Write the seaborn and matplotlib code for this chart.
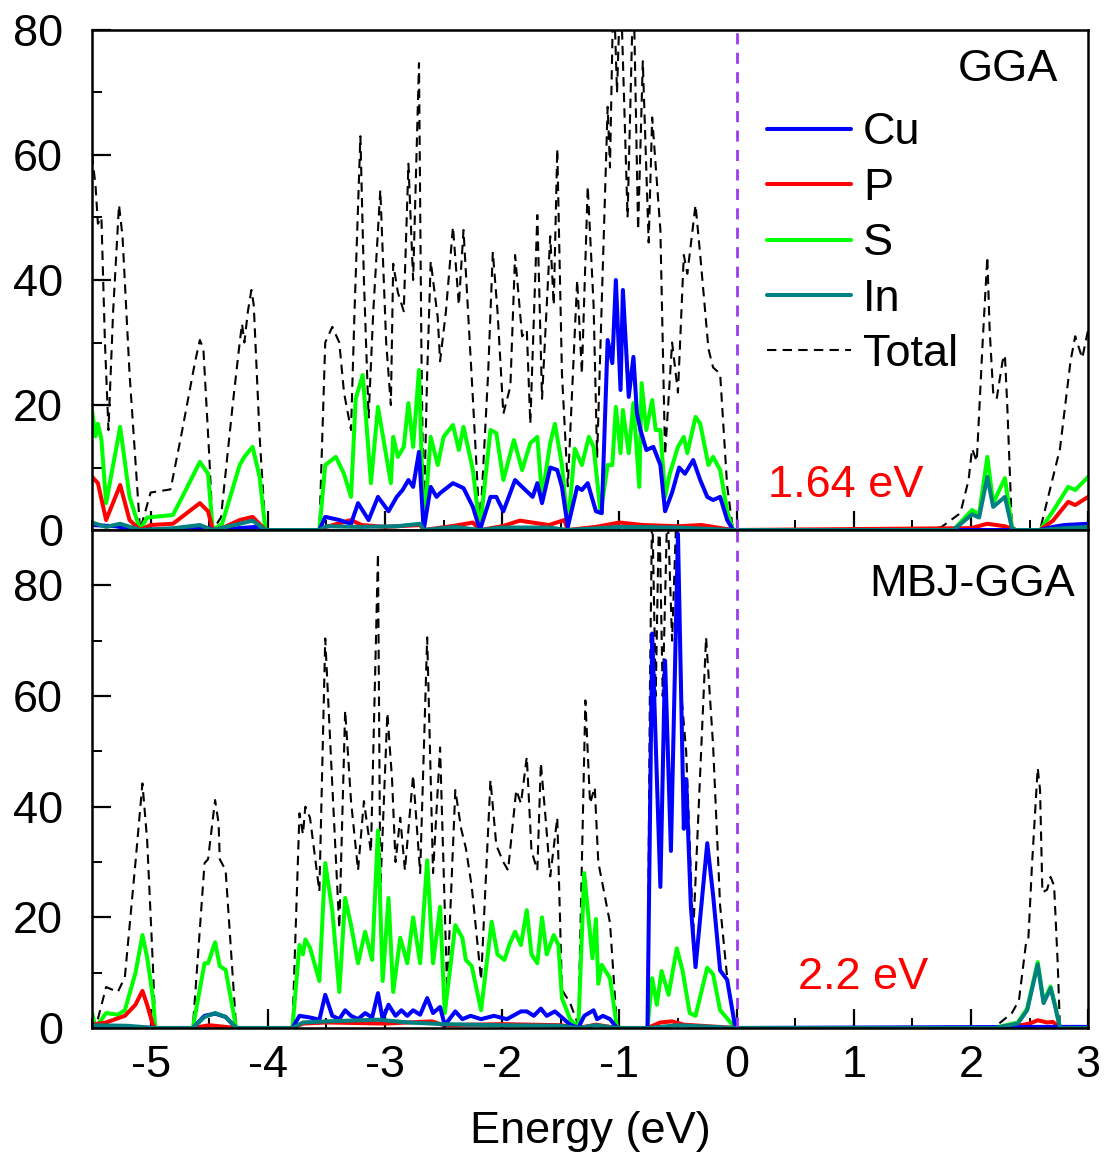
import matplotlib
matplotlib.use("Agg")
import matplotlib.pyplot as plt
from matplotlib.ticker import MultipleLocator
import seaborn as sns

# ---------------- GGA partial / total DOS ----------------
gga_total_e = [-5.50, -5.47, -5.45, -5.42, -5.39, -5.36, -5.32, -5.27, -5.24, -5.18, -5.09,
               -5.00, -4.83, -4.73, -4.62, -4.58, -4.55, -4.50, -4.47, -4.40, -4.30, -4.24,
               -4.22, -4.20, -4.17, -4.14, -4.12, -4.07, -4.02, -3.56, -3.51, -3.45, -3.39,
               -3.35, -3.29, -3.26, -3.21, -3.18, -3.14, -3.10, -3.04, -2.99, -2.95, -2.93,
               -2.89, -2.84, -2.80, -2.76, -2.71, -2.69, -2.67, -2.64, -2.61, -2.55, -2.53,
               -2.48, -2.42, -2.37, -2.33, -2.25, -2.19, -2.12, -2.08, -2.04, -1.99, -1.93,
               -1.89, -1.83, -1.79, -1.76, -1.70, -1.66, -1.59, -1.56, -1.53, -1.49, -1.44,
               -1.36, -1.32, -1.27, -1.22, -1.19, -1.10, -1.08, -1.05, -1.02, -0.99, -0.93,
               -0.88, -0.84, -0.80, -0.75, -0.72, -0.65, -0.61, -0.55, -0.50, -0.45, -0.42,
               -0.35, -0.31, -0.24, -0.20, -0.14, -0.08, -0.03, 1.60, 1.75, 1.91, 1.98,
               2.01, 2.05, 2.10, 2.14, 2.16, 2.19, 2.22, 2.27, 2.29, 2.31, 2.35, 2.38,
               2.59, 2.76, 2.85, 2.89, 2.95, 3.00]
gga_total = [60, 55, 49, 50, 30, 16, 35, 52, 47, 25, 0,
             6, 6.5, 16, 27, 30.4, 29, 12, 0, 2, 20, 30,
             33, 30, 35, 38.4, 36, 15, 0, 0, 30, 32.5, 30,
             22, 16, 35, 63, 40, 18, 35, 54.4, 30, 20, 42.6,
             38, 35, 58.6, 40, 74.7, 30, 1, 25, 43, 34, 27,
             35, 48.5, 36, 48, 21, 0, 25, 44.5, 35, 18.6, 23,
             44, 31, 32, 17, 50.4, 21, 47, 36, 61, 25, 7,
             40, 25, 55, 36, 11.7, 67.7, 58, 88, 70, 88, 50,
             88, 48, 75, 46, 66, 48, 12, 30, 22, 44, 41,
             52, 44, 29, 26, 25, 7, 0, 0, 0.5, 2.7, 8,
             13, 11, 30, 43.7, 32, 22, 21, 27, 28, 20, 0.5, 0,
             0, 13, 27, 31, 27.5, 32]

gga_s_e = [-5.50, -5.47, -5.45, -5.42, -5.38, -5.26, -5.18, -5.09, -5.03, -4.81, -4.73,
           -4.58, -4.51, -4.47, -4.39, -4.24, -4.20, -4.13, -4.07, -4.02, -3.56, -3.51,
           -3.42, -3.35, -3.29, -3.25, -3.19, -3.12, -3.06, -2.95, -2.93, -2.89, -2.84,
           -2.80, -2.76, -2.71, -2.67, -2.61, -2.55, -2.50, -2.42, -2.37, -2.33, -2.25,
           -2.19, -2.10, -2.05, -1.99, -1.90, -1.83, -1.76, -1.70, -1.66, -1.59, -1.55,
           -1.49, -1.44, -1.38, -1.32, -1.26, -1.22, -1.16, -1.10, -1.06, -1.03, -0.99,
           -0.97, -0.92, -0.88, -0.83, -0.81, -0.77, -0.72, -0.69, -0.65, -0.61, -0.57,
           -0.50, -0.45, -0.42, -0.35, -0.31, -0.24, -0.20, -0.14, -0.08, -0.03, 1.85,
           2.01, 2.07, 2.14, 2.19, 2.29, 2.35, 2.38, 2.59, 2.70, 2.83, 2.89, 3.00]
gga_s = [19, 15, 17, 14.5, 4.3, 16.5, 5.3, 0, 2, 2.4, 5.3,
         10.9, 9, 0, 1, 10.4, 11.7, 13.3, 8.5, 0, 0, 10.4,
         11.7, 9, 5.3, 21, 24.8, 7.5, 19.7, 7.5, 14.9, 11.7, 13.3,
         20.3, 13.3, 25.6, 0, 14.9, 10.4, 14.9, 16.8, 12.8, 16.5, 9.6,
         0, 16, 15.5, 8, 14.4, 9.6, 13.9, 14.9, 5.3, 13.9, 17,
         10.4, 0.5, 13, 10.4, 14.9, 13.3, 2.7, 10.4, 10.4, 19.7, 12.3,
         19.2, 12.3, 20.3, 6.9, 23.5, 16, 20.8, 16, 16, 5.3, 9,
         13.3, 14.9, 12.3, 18.1, 17, 10.4, 11.7, 9.6, 3, 0, 0,
         3.2, 2.5, 11.7, 4.3, 8.3, 0.5, 0, 0, 3, 6.9, 6.4, 8.5]

gga_cu_e = [-5.50, -5.30, -5.10, -4.50, -4.47, -4.10, -4.02, -3.56, -3.51, -3.39, -3.29,
            -3.23, -3.14, -3.06, -2.97, -2.90, -2.85, -2.80, -2.76, -2.71, -2.67, -2.61,
            -2.56, -2.53, -2.42, -2.33, -2.25, -2.19, -2.10, -2.05, -1.99, -1.89, -1.83,
            -1.74, -1.70, -1.66, -1.59, -1.53, -1.49, -1.44, -1.36, -1.32, -1.27, -1.20,
            -1.15, -1.10, -1.06, -1.03, -0.99, -0.97, -0.92, -0.88, -0.85, -0.82, -0.77,
            -0.71, -0.65, -0.61, -0.55, -0.49, -0.44, -0.37, -0.31, -0.25, -0.20, -0.14,
            -0.08, -0.03, 2.59, 2.70, 2.80, 3.00]
gga_cu = [0.8, 0.6, 0, 0.3, 0, 0.5, 0, 0, 2.1, 1.6, 1,
          4.3, 1.6, 5.3, 3, 5.3, 6.4, 8, 6.9, 12.5, 0, 6.9,
          5.3, 5.9, 7.5, 6.7, 3.7, 0, 5.3, 5.3, 3, 8, 6.9,
          5.3, 7.5, 4.3, 10, 9.6, 6.9, 0.5, 6.9, 6.4, 7.5, 3,
          2.7, 30.4, 26.7, 40, 22.4, 38.4, 21.3, 27.7, 18.7, 16, 12.8,
          13.3, 10.4, 3, 6, 10, 9, 11.2, 8, 5.3, 4.8, 5.3,
          1.6, 0, 0, 0.5, 0.8, 1.0]

gga_p_e = [-5.50, -5.45, -5.38, -5.26, -5.18, -5.09, -5.00, -4.81, -4.58, -4.51, -4.47,
           -4.39, -4.24, -4.13, -4.02, -3.56, -3.50, -3.29, -3.20, -3.00, -2.70, -2.67,
           -2.40, -2.25, -2.19, -2.00, -1.85, -1.60, -1.47, -1.44, -1.20, -1.00, -0.80,
           -0.50, -0.30, -0.03, 2.00, 2.14, 2.29, 2.38, 2.59, 2.70, 2.83, 2.89, 3.00]
gga_p = [8.5, 7.5, 1.6, 7.2, 1.6, 0, 0.8, 1, 4.3, 3, 0,
         0.3, 1.6, 2.1, 0, 0, 0.5, 1.6, 0.8, 0.5, 0.8, 0,
         0.7, 1.2, 0, 0.6, 1.5, 0.8, 1.6, 0, 0.5, 1.2, 0.8,
         0.6, 0.8, 0, 0.3, 1.0, 0.6, 0, 0, 1.5, 4.5, 4.0, 5.3]

gga_in_e = [-5.50, -5.38, -5.26, -5.09, -4.80, -4.58, -4.47, -4.24, -4.13, -4.02, -3.56,
            -3.50, -3.20, -2.90, -2.70, -2.67, -2.40, -2.19, -2.00, -1.60, -1.44, -1.00,
            -0.50, -0.03, 1.85, 2.01, 2.07, 2.14, 2.19, 2.29, 2.35, 2.38, 2.59, 2.80, 3.00]
gga_in = [1.2, 0.5, 1, 0, 0.3, 0.8, 0, 1, 1.5, 0, 0,
          0.6, 0.5, 0.6, 1.0, 0, 0.5, 0, 0.4, 0.4, 0, 0.5,
          0.4, 0, 0, 2.5, 2, 8.5, 3.7, 5.3, 0.3, 0, 0, 0.3, 0.5]

# ---------------- MBJ-GGA partial / total DOS ----------------
mbj_total_e = [-5.50, -5.47, -5.38, -5.28, -5.22, -5.13, -5.07, -5.03, -4.98, -4.96, -4.64,
               -4.54, -4.51, -4.45, -4.42, -4.41, -4.36, -4.27, -3.79, -3.73, -3.70, -3.68,
               -3.64, -3.56, -3.51, -3.45, -3.39, -3.34, -3.29, -3.23, -3.18, -3.12, -3.06,
               -3.04, -2.98, -2.94, -2.91, -2.87, -2.83, -2.76, -2.70, -2.64, -2.59, -2.53,
               -2.47, -2.40, -2.35, -2.31, -2.26, -2.18, -2.10, -2.05, -1.99, -1.95, -1.88,
               -1.84, -1.79, -1.75, -1.70, -1.67, -1.63, -1.59, -1.53, -1.49, -1.42, -1.35,
               -1.29, -1.25, -1.21, -1.18, -1.14, -1.08, -1.02, -0.76, -0.74, -0.72, -0.69,
               -0.66, -0.63, -0.59, -0.55, -0.51, -0.47, -0.43, -0.37, -0.26, -0.20, -0.14,
               -0.07, -0.01, 1.60, 2.16, 2.24, 2.35, 2.41, 2.47, 2.49, 2.52, 2.57, 2.59,
               2.61, 2.65, 2.68, 2.71, 2.74, 2.76, 3.00]
mbj_total = [1, 0, 7.4, 6.5, 9.2, 29.8, 44.2, 34, 11, 0, 0,
             29.8, 30.5, 41.2, 37, 30.5, 28.5, 0, 0, 38.8, 35, 40,
             38, 24.7, 70.4, 44, 18, 57.4, 41, 28.5, 41, 31.8, 85.8,
             24.7, 56.9, 45, 30, 38, 28.5, 45.7, 28, 70.6, 28, 50.7,
             6.9, 43, 36, 32.5, 25.6, 8.7, 44.8, 33, 30, 28.5, 43,
             40.6, 49, 32, 28.5, 47.9, 38, 27.4, 38, 6.9, 4.5, 0.5,
             59.2, 40.6, 43.5, 30, 25.6, 19, 0, 0, 60, 95, 60,
             95, 60, 95, 70, 95, 60, 50, 17, 70.6, 51, 22,
             7, 0, 0, 0, 0.8, 2.7, 5, 15.3, 16, 29, 47, 43,
             24.5, 25, 27.3, 25.7, 12, 0, 0]

mbj_s_e = [-5.50, -5.47, -5.38, -5.28, -5.22, -5.13, -5.07, -5.03, -4.98, -4.96, -4.64,
           -4.54, -4.51, -4.45, -4.41, -4.36, -4.27, -3.79, -3.73, -3.70, -3.68, -3.64,
           -3.56, -3.51, -3.45, -3.39, -3.34, -3.29, -3.23, -3.17, -3.11, -3.06, -3.02,
           -2.97, -2.93, -2.87, -2.81, -2.76, -2.70, -2.64, -2.59, -2.53, -2.49, -2.40,
           -2.34, -2.31, -2.26, -2.18, -2.09, -2.04, -1.98, -1.94, -1.89, -1.84, -1.79,
           -1.75, -1.70, -1.66, -1.62, -1.56, -1.52, -1.49, -1.42, -1.35, -1.30, -1.23,
           -1.20, -1.18, -1.15, -1.08, -1.02, -0.76, -0.72, -0.68, -0.64, -0.58, -0.51,
           -0.46, -0.40, -0.35, -0.25, -0.20, -0.14, -0.01, 2.20, 2.40, 2.48, 2.57,
           2.62, 2.68, 2.72, 2.76, 3.00]
mbj_s = [2.7, 0, 2.7, 2.4, 3.2, 9.9, 16.8, 12.8, 5.4, 0, 0,
         11.7, 11.7, 15.5, 11.2, 10.5, 0, 0, 15, 13.3, 16, 14.5,
         8.5, 29.8, 21.3, 6.5, 23.5, 18.6, 11.7, 17.4, 12.3, 35.7, 8.5,
         23.5, 6.5, 16.3, 11.7, 20, 11.7, 30.3, 11.7, 21.9, 2.7, 18.6,
         16.3, 12.3, 11.2, 3.2, 19.2, 13.3, 12.3, 15, 17.4, 15, 21.3,
         13.3, 11.7, 20, 13.3, 16.8, 15, 5.4, 1.6, 0, 28, 12.6,
         19.7, 8, 11.4, 9, 0, 0, 9, 4.2, 10.3, 6, 14.4,
         10.3, 2.7, 2.2, 10.9, 9.7, 3.2, 0, 0, 1, 3.5, 11.9,
         4.8, 7.5, 4, 0, 0]

mbj_cu_e = [-5.50, -4.96, -4.64, -4.54, -4.45, -4.36, -4.27, -3.79, -3.73, -3.64, -3.56,
            -3.51, -3.45, -3.39, -3.34, -3.29, -3.23, -3.17, -3.11, -3.06, -3.02, -2.97,
            -2.91, -2.86, -2.81, -2.76, -2.70, -2.64, -2.59, -2.53, -2.49, -2.40, -2.34,
            -2.27, -2.18, -2.07, -1.96, -1.84, -1.79, -1.73, -1.67, -1.62, -1.55, -1.49,
            -1.42, -1.35, -1.30, -1.22, -1.19, -1.14, -1.08, -1.02, -0.76, -0.72, -0.65,
            -0.61, -0.56, -0.50, -0.45, -0.43, -0.39, -0.35, -0.25, -0.20, -0.14, -0.08,
            -0.01, 2.60, 3.00]
mbj_cu = [0.3, 0, 0, 2.2, 2.6, 2, 0, 0, 2.2, 1.9, 1.5,
          6, 2.2, 1.6, 3.2, 2.2, 1.6, 2.7, 1.9, 6.3, 1.6, 4.2,
          2.2, 3.2, 2.2, 3.2, 2.4, 5.4, 2.7, 3.8, 0.5, 3, 1.6,
          2.2, 1.6, 2.2, 1.6, 3, 3, 2.2, 3.5, 2.2, 3, 1.9,
          0.6, 0, 2.2, 3.2, 1.6, 2.2, 1.6, 0, 0, 71.3, 25.5,
          66.4, 32, 89.3, 36, 45, 22, 11, 33.4, 24, 10.4, 8.7,
          0, 0.2, 0.2]

mbj_p_e = [-5.50, -5.38, -5.22, -5.13, -5.07, -5.03, -4.98, -4.96, -4.64, -4.50, -4.27,
           -3.79, -3.70, -3.50, -3.00, -2.60, -2.50, -2.00, -1.50, -1.35, -1.20, -1.02,
           -0.76, -0.65, -0.55, -0.45, -0.01, 2.30, 2.50, 2.57, 2.65, 2.70, 2.76, 3.00]
mbj_p = [0.6, 1, 2.2, 4.2, 6.7, 4.2, 0.5, 0, 0, 0.5, 0,
         0, 0.8, 1, 0.8, 1.2, 0.5, 0.7, 0.5, 0, 0.6, 0,
         0, 1, 1.2, 0.6, 0, 0, 0.8, 1.4, 1, 1.1, 0, 0]

mbj_in_e = [-5.50, -5.20, -4.96, -4.64, -4.54, -4.45, -4.36, -4.27, -3.79, -3.70, -3.50,
            -3.06, -2.80, -2.50, -2.00, -1.50, -1.35, -1.20, -1.02, -0.76, -0.50, -0.01,
            2.20, 2.40, 2.48, 2.57, 2.62, 2.68, 2.72, 2.76, 3.00]
mbj_in = [0.5, 0.4, 0, 0, 2, 2.7, 2, 0, 0, 1, 1.2,
          1.5, 1, 0.7, 0.5, 0.4, 0, 0.5, 0, 0, 0.5, 0,
          0, 0.8, 3.2, 11.5, 4.5, 7.2, 3.8, 0, 0]

species = ["Cu", "P", "S", "In"]
colors = {"Cu": "#0000ff", "P": "#ff0000", "S": "#00ff00", "In": "#008080"}
gap_labels = ["1.64 eV", "2.2 eV"]
panel_titles = ["GGA", "MBJ-GGA"]
x_ticks = [-5, -4, -3, -2, -1, 0, 1, 2, 3]

sns.set_style("ticks")
plt.rcParams["font.family"] = ["Liberation Sans", "DejaVu Sans"]
plt.rcParams["axes.unicode_minus"] = False
plt.rcParams["text.color"] = "black"
plt.rcParams["axes.labelcolor"] = "black"
plt.rcParams["xtick.color"] = "black"
plt.rcParams["ytick.color"] = "black"

FS = 32.5
fig = plt.figure(figsize=(11.05, 11.57), dpi=100)
ax_top = fig.add_axes([0.0833, 0.5419, 0.9014, 0.4322])
ax_bot = fig.add_axes([0.0833, 0.1115, 0.9014, 0.4304])

panels = [
    (ax_top, gga_total_e, gga_total,
     {"Cu": (gga_cu_e, gga_cu), "P": (gga_p_e, gga_p), "S": (gga_s_e, gga_s), "In": (gga_in_e, gga_in)}),
    (ax_bot, mbj_total_e, mbj_total,
     {"Cu": (mbj_cu_e, mbj_cu), "P": (mbj_p_e, mbj_p), "S": (mbj_s_e, mbj_s), "In": (mbj_in_e, mbj_in)}),
]

handles = {}
for ax, te, tv, parts in panels:
    sns.lineplot(x=te, y=tv, ax=ax, color="black", lw=1.5, linestyle=(0, (4.5, 3)),
                 estimator=None, sort=False, legend=False)
    handles["Total"] = ax.lines[-1]
    for name in ["S", "P", "Cu", "In"]:
        e, v = parts[name]
        sns.lineplot(x=e, y=v, ax=ax, color=colors[name], lw=2.9,
                     estimator=None, sort=False, legend=False)
        handles[name] = ax.lines[-1]
    ax.axvline(0, color="#9b3cf0", lw=2.0, linestyle=(0, (4, 3)))
    ax.set_xlim(-5.5, 3.0)
    ax.set_xticks(x_ticks)
    ax.xaxis.set_minor_locator(MultipleLocator(0.5))
    ax.yaxis.set_minor_locator(MultipleLocator(10))
    ax.tick_params(which="major", direction="in", length=14, width=1.6,
                   labelsize=FS, top=False, right=False, colors="black")
    ax.tick_params(which="minor", direction="in", length=7, width=1.4,
                   top=False, right=False, colors="black")
    ax.tick_params(axis="y", pad=21)
    ax.tick_params(axis="x", pad=12)
    for sp in ax.spines.values():
        sp.set_linewidth(1.8)
        sp.set_color("black")
    ax.set_ylabel("")
    ax.set_xlabel("")

ax_top.set_ylim(0, 80)
ax_top.set_yticks([0, 20, 40, 60, 80])
ax_top.tick_params(axis="x", labelbottom=False)
ax_bot.set_ylim(0, 90)
ax_bot.set_yticks([0, 20, 40, 60, 80])
ax_bot.set_xlabel("Energy (eV)", fontsize=FS, labelpad=18, color="black")

ax_top.text(0.970, 0.92, panel_titles[0], transform=ax_top.transAxes,
            ha="right", va="center", fontsize=FS)
ax_bot.text(0.987, 0.89, panel_titles[1], transform=ax_bot.transAxes,
            ha="right", va="center", fontsize=FS)
ax_top.text(0.679, 0.09, gap_labels[0], transform=ax_top.transAxes,
            ha="left", va="center", fontsize=FS, color="#ff0000")
ax_bot.text(0.709, 0.102, gap_labels[1], transform=ax_bot.transAxes,
            ha="left", va="center", fontsize=FS, color="#ff0000")

order = ["Cu", "P", "S", "In", "Total"]
leg = ax_top.legend([handles[k] for k in order], order, loc="upper left",
                    bbox_to_anchor=(0.678, 0.835), frameon=False, fontsize=FS,
                    handlelength=1.85, handletextpad=0.27, labelspacing=0.32,
                    borderpad=0, borderaxespad=0)
for t in leg.get_texts():
    t.set_color("black")

fig.savefig("out.png", dpi=100)
